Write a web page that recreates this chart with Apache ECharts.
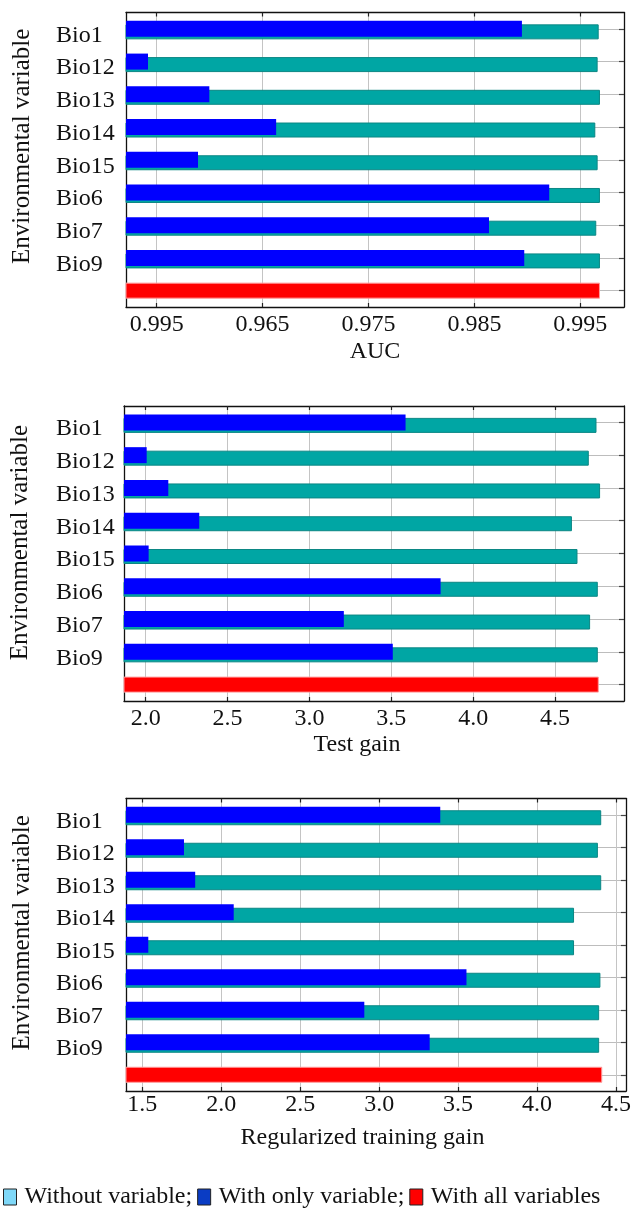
<!DOCTYPE html>
<html>
<head>
<meta charset="utf-8">
<script src="https://cdn.jsdelivr.net/npm/echarts@6/dist/echarts.min.js"></script>
<style>
html,body{margin:0;padding:0;background:#fff;}
#main{width:634px;height:1210px;}
</style>
</head>
<body>
<div id="main"></div>
<script>
// ---------- data ----------
var categories = ['Bio1','Bio12','Bio13','Bio14','Bio15','Bio6','Bio7','Bio9',''];

var aucWithout = [0.99674,0.99664,0.99686,0.99642,0.99664,0.99686,0.99651,0.99686];
var aucOnly    = [0.98949,0.95418,0.95997,0.96628,0.95890,0.99207,0.98638,0.98971];
var aucAll     = 0.99686;
var aucTicks      = [0.955,0.965,0.975,0.985,0.995];
var aucTickLabels = ['0.995','0.965','0.975','0.985','0.995'];

var testWithout = [4.753,4.706,4.775,4.603,4.637,4.761,4.714,4.761];
var testOnly    = [3.587,2.006,2.138,2.327,2.018,3.801,3.210,3.509];
var testAll     = 4.767;
var testTicks      = [2.0,2.5,3.0,3.5,4.0,4.5];
var testTickLabels = ['2.0','2.5','3.0','3.5','4.0','4.5'];

var regWithout = [4.406,4.385,4.406,4.234,4.234,4.401,4.393,4.393];
var regOnly    = [3.387,1.764,1.835,2.079,1.538,3.553,2.906,3.320];
var regAll     = 4.413;
var regTicks      = [1.5,2.0,2.5,3.0,3.5,4.0,4.5];
var regTickLabels = ['1.5','2.0','2.5','3.0','3.5','4.0','4.5'];

var legendNames = ['Without variable;','With only variable;','With all variables'];

// ---------- build ----------
var FONT = '"Liberation Serif","Times New Roman",serif';
var panels = [
  {without:aucWithout, only:aucOnly, all:aucAll, ticks:aucTicks, labels:aucTickLabels,
   name:'AUC', min:0.9521, max:0.99913,
   grid:{left:126,right:10,top:12.5,height:294.5}, labelMargin:6, nameGap:33, namePad:[0,0,0,0], yNamePad:[0,0,0,27]},
  {without:testWithout, only:testOnly, all:testAll, ticks:testTicks, labels:testTickLabels,
   name:'Test gain', min:1.8675, max:4.921,
   grid:{left:124,right:10,top:406,height:295}, labelMargin:6, nameGap:32, namePad:[0,34,0,0], yNamePad:[0,0,0,22]},
  {without:regWithout, only:regOnly, all:regAll, ticks:regTicks, labels:regTickLabels,
   name:'Regularized training gain', min:1.3968, max:4.563,
   grid:{left:126,right:8,top:798.5,height:292.5}, labelMargin:2, nameGap:35, namePad:[0,27,0,0], yNamePad:[0,0,0,24]}
];

var grids=[], xAxes=[], yAxes=[], series=[];
var SHIFT = 3;

panels.forEach(function(p, i){
  var g = grids.length;
  grids.push({left:p.grid.left, right:p.grid.right, top:p.grid.top, height:p.grid.height, containLabel:false});
  grids.push({left:p.grid.left, right:p.grid.right, top:p.grid.top+SHIFT, height:p.grid.height, containLabel:false});

  var fmt = (function(t,l){ return function(v){
    for (var k=0;k<t.length;k++){ if (Math.abs(t[k]-v)<1e-9) return l[k]; }
    return '';
  };})(p.ticks, p.labels);

  var xMain = xAxes.length;
  xAxes.push({type:'value', gridIndex:g, position:'bottom', min:p.min, max:p.max,
    axisLine:{show:true, onZero:false, lineStyle:{color:'#111', width:1.3}},
    axisTick:{show:true, inside:true, length:4, customValues:p.ticks, lineStyle:{color:'#222', width:1.2}},
    axisLabel:{show:true, customValues:p.ticks, formatter:fmt, margin:p.labelMargin,
      fontFamily:FONT, fontSize:24, color:'#111'},
    splitLine:{show:true, lineStyle:{color:'#c4c4c4', width:1}},
    name:p.name, nameLocation:'middle', nameGap:p.nameGap,
    nameTextStyle:{fontFamily:FONT, fontSize:24, color:'#111', padding:p.namePad}
  });
  xAxes.push({type:'value', gridIndex:g, position:'top', min:p.min, max:p.max,
    axisLine:{show:true, onZero:false, lineStyle:{color:'#111', width:1.3}},
    axisTick:{show:true, inside:true, length:4, customValues:p.ticks, lineStyle:{color:'#222', width:1.2}},
    axisLabel:{show:false}, splitLine:{show:false}
  });
  var xShift = xAxes.length;
  xAxes.push({type:'value', gridIndex:g+1, min:p.min, max:p.max, show:false, splitLine:{show:false}});

  var yMain = yAxes.length;
  yAxes.push({type:'category', gridIndex:g, position:'left', inverse:true, data:categories,
    axisLine:{show:true, onZero:false, lineStyle:{color:'#111', width:1.3}},
    axisTick:{show:false},
    axisLabel:{show:true, align:'left', verticalAlign:'top', lineHeight:13, margin:(p.grid.left-56),
      fontFamily:FONT, fontSize:24, color:'#111'},
    splitLine:{show:false},
    name:'Environmental variable', nameLocation:'middle', nameRotate:90, nameGap:91,
    nameTextStyle:{fontFamily:FONT, fontSize:25, color:'#111', padding:p.yNamePad}
  });
  yAxes.push({type:'category', gridIndex:g, position:'right', inverse:true, data:categories,
    axisLine:{show:true, onZero:false, lineStyle:{color:'#111', width:1.3}},
    axisTick:{show:true, inside:true, alignWithLabel:true, length:5, lineStyle:{color:'#444', width:1.2}},
    axisLabel:{show:false},
    splitLine:{show:true, alignWithLabel:true, lineStyle:{color:'#bdbdbd', width:1}}
  });
  var yShift = yAxes.length;
  yAxes.push({type:'category', gridIndex:g+1, inverse:true, data:categories, show:false, splitLine:{show:false}});

  series.push({type:'bar', name:legendNames[0], xAxisIndex:xShift, yAxisIndex:yShift,
    data:p.without.concat([null]), barWidth:15, z:2,
    itemStyle:{color:'#00a6a4', borderColor:'#0b8784', borderWidth:1}, silent:true});
  series.push({type:'bar', name:legendNames[1], xAxisIndex:xMain, yAxisIndex:yMain,
    data:p.only.concat([null]), barWidth:16, barGap:'-100%', z:3,
    itemStyle:{color:'#0000ff'}, silent:true});
  series.push({type:'bar', name:legendNames[2], xAxisIndex:xMain, yAxisIndex:yMain,
    data:[null,null,null,null,null,null,null,null,p.all], barWidth:16, barGap:'-100%', z:3,
    itemStyle:{color:'#ff0000', borderColor:'#ff9c9c', borderWidth:1}, silent:true});
});

var option = {
  animation:false,
  backgroundColor:'#ffffff',
  grid:grids, xAxis:xAxes, yAxis:yAxes, series:series,
  legend:{
    left:3, top:1185, padding:0, orient:'horizontal', itemWidth:13, itemHeight:16, itemGap:5,
    selectedMode:false, icon:'rect',
    textStyle:{fontFamily:FONT, fontSize:24, color:'#111', padding:[0,0,0,3]},
    data:[
      {name:legendNames[0], itemStyle:{color:'#7fd8f8', borderColor:'#222', borderWidth:1}},
      {name:legendNames[1], itemStyle:{color:'#0a3cc4', borderColor:'#222', borderWidth:1}},
      {name:legendNames[2], itemStyle:{color:'#ff0000', borderColor:'#222', borderWidth:1}}
    ]
  }
};

var chart = echarts.init(document.getElementById('main'), null, {renderer:'canvas', width:634, height:1210});
chart.setOption(option);
</script>
</body>
</html>
